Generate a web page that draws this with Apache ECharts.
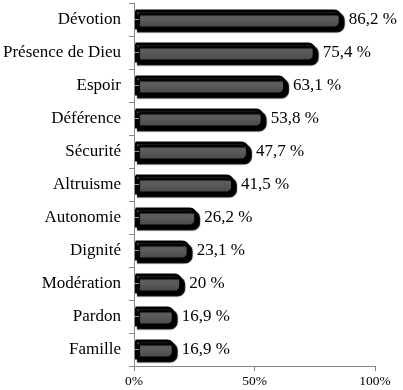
<!DOCTYPE html>
<html>
<head>
<meta charset="utf-8">
<script src="https://cdn.jsdelivr.net/npm/echarts@6/dist/echarts.min.js"></script>
<style>html,body{margin:0;padding:0;background:#fff}#c{width:403px;height:390px}</style>
</head>
<body>
<div id="c"></div>
<script>
const categories = ["Dévotion","Présence de Dieu","Espoir","Déférence","Sécurité","Altruisme","Autonomie","Dignité","Modération","Pardon","Famille"];
const values = [86.2, 75.4, 63.1, 53.8, 47.7, 41.5, 26.2, 23.1, 20, 16.9, 16.9];
const xTicks = [0, 50, 100];

const chart = echarts.init(document.getElementById('c'), null, {renderer: 'canvas'});
const serif = 'Liberation Serif';
chart.setOption({
  animation: false,
  grid: {left: 132, right: 28, top: 3, bottom: 24, containLabel: false},
  xAxis: {
    type: 'value', min: 0, max: 100, interval: 50,
    splitLine: {show: false},
    axisLine: {show: true, lineStyle: {color: '#888', width: 1}},
    axisTick: {show: true, length: 5, lineStyle: {color: '#888'}},
    axisLabel: {color: '#000', fontFamily: serif, fontSize: 13.5, margin: 8,
      formatter: v => xTicks.includes(v) ? v + '%' : ''}
  },
  yAxis: [{
    type: 'category', data: categories, inverse: true, z: 10,
    axisLine: {show: true, lineStyle: {color: '#888', width: 1}},
    axisTick: {show: true, length: 5, lineStyle: {color: '#888'}},
    axisLabel: {color: '#000', fontFamily: serif, fontSize: 17, margin: 13}
  }, {
    type: 'category', data: categories, inverse: true, z: 10, position: 'left',
    axisLine: {show: false},
    axisTick: {show: true, inside: true, alignWithLabel: true, length: 5, lineStyle: {color: '#999'}},
    axisLabel: {show: false}
  }],
  series: [{
    type: 'bar', data: values, barWidth: 20, yAxisIndex: 0,
    itemStyle: {
      color: new echarts.graphic.LinearGradient(0, 0, 0, 1, [
        {offset: 0, color: '#676767'}, {offset: 0.5, color: '#5a5a5a'}, {offset: 1, color: '#454545'}
      ]),
      borderColor: '#000', borderWidth: 3, borderRadius: [0, 6, 6, 0],
      shadowColor: '#000', shadowBlur: 1, shadowOffsetX: 3, shadowOffsetY: 3
    },
    label: {
      show: true, position: 'right', distance: 7, color: '#000', fontFamily: serif, fontSize: 17,
      formatter: p => String(p.value).replace('.', ',') + ' %'
    }
  }]
});
</script>
</body>
</html>
